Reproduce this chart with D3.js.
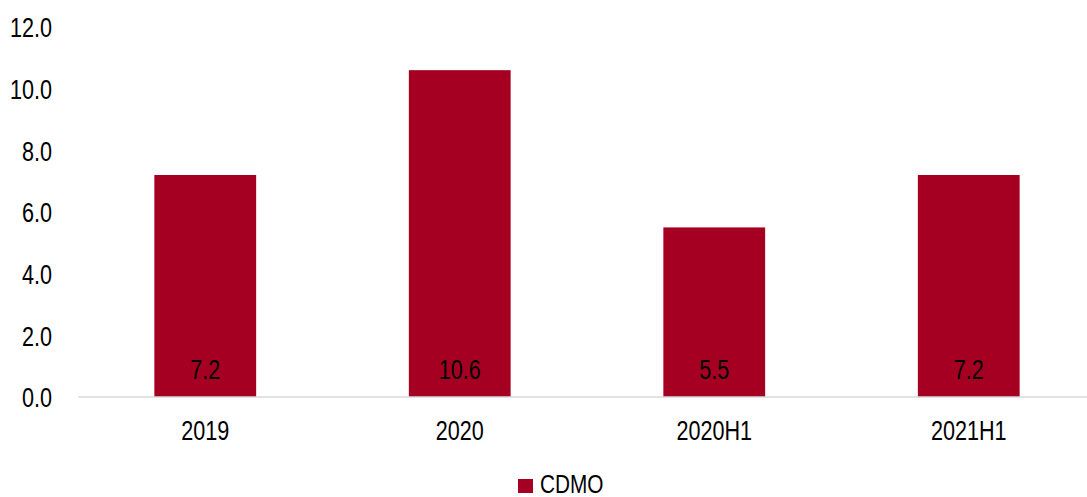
<!DOCTYPE html>
<html>
<head>
<meta charset="utf-8">
<script src="https://cdn.jsdelivr.net/npm/d3@7"></script>
<style>
  html, body { margin: 0; padding: 0; background: #fff; }
  svg text { font-family: "Liberation Sans", Arial, sans-serif; fill: #000; }
</style>
</head>
<body>
<svg id="chart" width="1087" height="497"></svg>
<script>
// CDMO revenue by period
const categories = ["2019", "2020", "2020H1", "2021H1"];
const cdmoValues = [7.2, 10.6, 5.5, 7.2];
const yTicks = [0, 2, 4, 6, 8, 10, 12];
const seriesName = "CDMO";

const svg = d3.select("#chart");
const barColor = "#A50021";
const fontSize = 27;
const narrow = 0.8; // horizontal squeeze for a narrow face

// squeeze a text horizontally while keeping its anchor x in place
function squeeze(sel) {
  sel.each(function () {
    const t = d3.select(this);
    const x0 = +t.attr("x") || 0;
    t.attr("x", x0 / narrow).attr("transform", `scale(${narrow},1)`);
  });
}

const x = d3.scaleBand()
  .domain(categories)
  .range([78, 1096])
  .paddingInner(0.6)
  .paddingOuter(0.3);

const y = d3.scaleLinear()
  .domain([0, 12])
  .range([397, 27]);

// y axis labels (no axis line)
const yAxis = svg.append("g").attr("transform", "translate(52,0)")
  .call(d3.axisLeft(y).tickValues(yTicks).tickFormat(d3.format(".1f")).tickSize(0).tickPadding(0));
yAxis.select(".domain").remove();
yAxis.selectAll("text")
  .attr("font-size", fontSize)
  .attr("font-family", null)
  .attr("text-anchor", "end")
  .attr("dy", "0.36em")
  .call(squeeze);

// bars
svg.append("g").selectAll("rect")
  .data(categories)
  .join("rect")
  .attr("x", d => x(d))
  .attr("width", x.bandwidth())
  .attr("y", (d, i) => y(cdmoValues[i]))
  .attr("height", (d, i) => y(0) - y(cdmoValues[i]))
  .attr("fill", barColor);

// baseline
svg.append("line")
  .attr("x1", 78).attr("x2", 1087)
  .attr("y1", y(0)).attr("y2", y(0))
  .attr("stroke", "#d9d9d9").attr("stroke-width", 1.5);

// x axis labels
const xAxis = svg.append("g").attr("transform", `translate(0,${y(0)})`)
  .call(d3.axisBottom(x).tickSize(0).tickPadding(0));
xAxis.select(".domain").remove();
xAxis.selectAll("text")
  .attr("font-size", fontSize)
  .attr("font-family", null)
  .attr("y", 43)
  .attr("dy", null)
  .call(squeeze);

// value labels inside bars
svg.append("g").selectAll("text")
  .data(categories)
  .join("text")
  .attr("x", d => x(d) + x.bandwidth() / 2)
  .attr("y", y(0) - 18)
  .attr("text-anchor", "middle")
  .attr("font-size", fontSize)
  .text((d, i) => d3.format(".1f")(cdmoValues[i]))
  .call(squeeze);

// legend
const legend = svg.append("g");
legend.append("rect")
  .attr("x", 518).attr("y", 479).attr("width", 15).attr("height", 14)
  .attr("fill", barColor);
legend.append("text")
  .attr("x", 540).attr("y", 493)
  .attr("font-size", 26)
  .text(seriesName)
  .call(squeeze);
</script>
</body>
</html>
